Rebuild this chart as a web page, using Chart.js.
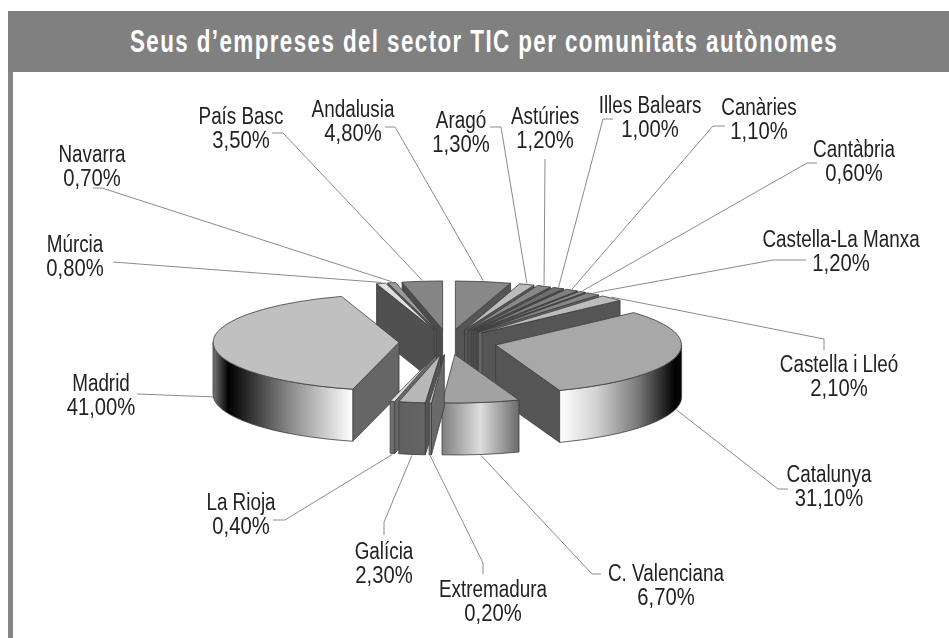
<!DOCTYPE html>
<html>
<head>
<meta charset="utf-8">
<script src="https://cdn.jsdelivr.net/npm/chart.js@4"></script>
<style>
  html, body { margin: 0; padding: 0; background: #fff; }
  body { width: 949px; height: 638px; position: relative; overflow: hidden; }
  #frame { position: absolute; left: 8px; top: 11px; width: 936px; height: 627px; border-left: 5px solid #858585; }
  #titleBar { position: absolute; left: 8px; top: 11px; width: 941px; height: 61px; background: #808080; }
  /* no condensed face is installed, so the bold face is narrowed by hand */
  #titleBar span {
    position: absolute; left: 122px; top: 0; color: #fff; white-space: nowrap;
    font: bold 32px "Liberation Sans", Arial, sans-serif; line-height: 60px;
    letter-spacing: 2px; transform: scaleX(0.7); transform-origin: 0 0;
  }
  canvas { position: absolute; left: 0; top: 0; }
</style>
</head>
<body>
<div id="frame"></div>
<div id="titleBar"><span>Seus d’empreses del sector TIC per comunitats autònomes</span></div>
<canvas id="pie" width="949" height="638"></canvas>
<script>
/* Data, clockwise from the top */
const categories = ['Andalusia', 'Aragó', 'Astúries', 'Illes Balears', 'Canàries', 'Cantàbria',
  'Castella-La Manxa', 'Castella i Lleó', 'Catalunya', 'C. Valenciana', 'Extremadura', 'Galícia',
  'La Rioja', 'Madrid', 'Múrcia', 'Navarra', 'País Basc'];
const shares = [4.8, 1.3, 1.2, 1.0, 1.1, 0.6, 1.2, 2.1, 31.1, 6.7, 0.2, 2.3, 0.4, 41.0, 0.8, 0.7, 3.5];

/* Styles */
const faceColors = ['#888888', '#bcbcbc', '#888888', '#6e6e6e', '#808080', '#909090', '#858585', '#bcbcbc',
  '#a8a8a8', '#a2a2a2', '#d0d0d0', '#b8b8b8', '#e2e2e2', '#c0c0c0', '#e0e0e0', '#9a9a9a', '#858585'];
const cutColors = ['#555555', '#555555', '#555555', '#4c4c4c', '#555555', '#4c4c4c', '#666666', '#555555',
  '#555555', '#606060', '#6a6a6a', '#555555', '#6a6a6a', '#666666', '#505050', '#555555', '#4c4c4c'];
const rimStops = {
  8: [[0, '#ffffff'], [0.3, '#d2d2d2'], [0.65, '#777777'], [0.95, '#000000'], [1, '#0a0a0a']],
  9: [[0, '#808080'], [0.5, '#dddddd'], [1, '#6a6a6a']],
  10: [[0, '#777777'], [1, '#777777']],
  11: [[0, '#606060'], [1, '#666666']],
  12: [[0, '#777777'], [1, '#666666']],
  13: [[0, '#777777'], [0.11, '#000000'], [0.55, '#8a8a8a'], [1, '#ffffff']]
};

/* Label centre (x, first line y) and the leader's way to it, last point next to the text */
const labelLayout = [
  { x: 353, y: 111, path: [[395, 127], [385, 127]] },
  { x: 461, y: 122, path: [[501, 127], [490, 127]] },
  { x: 545, y: 118, path: [[545, 159]] },
  { x: 650, y: 107, path: [[603, 119], [613, 119]] },
  { x: 759, y: 109, path: [[713, 126], [725, 126]] },
  { x: 854, y: 151, path: [[807, 163], [817, 163]] },
  { x: 841, y: 241, path: [[773, 260], [806, 260]] },
  { x: 839, y: 366, path: [[824, 339], [824, 350]] },
  { x: 829, y: 476, path: [[778, 489], [788, 489]] },
  { x: 666, y: 575, path: [[592, 574], [601, 574]] },
  { x: 493, y: 591, path: [[483, 563], [483, 574]] },
  { x: 384, y: 553, path: [[384, 522], [384, 535]] },
  { x: 241, y: 504, path: [[285, 520], [273, 520]] },
  { x: 101, y: 385, path: [[137, 394]] },
  { x: 75, y: 246, path: [[113, 262]] },
  { x: 92, y: 156, path: [[102, 188], [93, 188]] },
  { x: 241, y: 118, path: [[283, 133], [272, 133]] }
];

const SQUASH = 0.26;      // vertical scale of the tilted disc
const DEPTH = 52;         // wall height
const EXPLODE = 49;       // how far each slice is pulled out
const LINE_GAP = 23.5;
const NARROW = 0.82;      // horizontal squeeze of the label font
const NARROW_NUM = 0.88;  // the percentages are set a little wider

function fmtShare(v) {
  return v.toFixed(2).replace('.', ',') + '%';
}

// centre of the exploded slice on screen
function sliceOrigin(arc) {
  const mid = (arc.startAngle + arc.endAngle) / 2;
  return {
    x: arc.x + Math.cos(mid) * EXPLODE,
    y: arc.y + Math.sin(mid) * EXPLODE * SQUASH
  };
}

function rimPoint(o, r, a) {
  return { x: o.x + Math.cos(a) * r, y: o.y + Math.sin(a) * r * SQUASH };
}

function drawCutWall(ctx, o, r, a, color) {
  const p = rimPoint(o, r, a);
  ctx.beginPath();
  ctx.moveTo(o.x, o.y);
  ctx.lineTo(p.x, p.y);
  ctx.lineTo(p.x, p.y + DEPTH);
  ctx.lineTo(o.x, o.y + DEPTH);
  ctx.closePath();
  ctx.fillStyle = color;
  ctx.fill();
  ctx.stroke();
}

function drawRim(ctx, o, r, a0, a1, stops) {
  const from = rimPoint(o, r, a0);
  const to = rimPoint(o, r, a1);
  const left = Math.min(from.x, to.x, (a0 < Math.PI && a1 >= Math.PI) ? o.x - r : Infinity);
  const right = Math.max(from.x, to.x, (a0 <= 0 && a1 > 0) ? o.x + r : -Infinity);
  const grad = ctx.createLinearGradient(left, 0, right, 0);
  stops.forEach(s => grad.addColorStop(s[0], s[1]));
  ctx.beginPath();
  ctx.ellipse(o.x, o.y, r, r * SQUASH, 0, a0, a1);
  ctx.lineTo(to.x, to.y + DEPTH);
  ctx.ellipse(o.x, o.y + DEPTH, r, r * SQUASH, 0, a1, a0, true);
  ctx.closePath();
  ctx.fillStyle = grad;
  ctx.fill();
  ctx.stroke();
}

function drawSlice(ctx, arc, i) {
  const o = sliceOrigin(arc);
  const r = arc.outerRadius;
  const a = arc.startAngle;
  const b = arc.endAngle;

  ctx.strokeStyle = '#3c3c3c';
  ctx.lineWidth = 0.8;
  ctx.lineJoin = 'round';

  // walls: the start cut faces us on the left half, the end cut on the right half
  if (Math.sin(a + Math.PI / 2) < 0) drawCutWall(ctx, o, r, a, cutColors[i]);
  if (Math.sin(b + Math.PI / 2) > 0) drawCutWall(ctx, o, r, b, cutColors[i]);

  const rim0 = Math.max(a, 0);
  const rim1 = Math.min(b, Math.PI);
  if (rim1 > rim0) drawRim(ctx, o, r, rim0, rim1, rimStops[i] || [[0, cutColors[i]], [1, cutColors[i]]]);

  // top face is the library's own arc, squashed
  ctx.save();
  ctx.translate(o.x, o.y);
  ctx.scale(1, SQUASH);
  ctx.translate(-arc.x, -arc.y);
  arc.draw(ctx);
  ctx.restore();

  ctx.beginPath();
  ctx.moveTo(o.x, o.y);
  ctx.ellipse(o.x, o.y, r, r * SQUASH, 0, a, b);
  ctx.closePath();
  ctx.stroke();
}

function narrowText(ctx, text, x, y, squeeze) {
  ctx.save();
  ctx.translate(x, y);
  ctx.scale(squeeze, 1);
  ctx.fillText(text, 0, 0);
  ctx.restore();
}

function drawLabels(ctx, arcs) {
  arcs.forEach((arc, i) => {
    const mid = (arc.startAngle + arc.endAngle) / 2;
    const o = sliceOrigin(arc);
    const p = rimPoint(o, arc.outerRadius, mid);
    const front = Math.sin(mid) > 0;
    const lay = labelLayout[i];

    ctx.beginPath();
    ctx.moveTo(p.x, p.y + (front ? DEPTH + 1 : -1));
    lay.path.forEach(pt => ctx.lineTo(pt[0], pt[1]));
    ctx.strokeStyle = '#8a8a8a';
    ctx.lineWidth = 1;
    ctx.stroke();

    ctx.fillStyle = '#222';
    ctx.font = '23px "Liberation Sans", Arial, sans-serif';
    ctx.textAlign = 'center';
    ctx.textBaseline = 'middle';
    narrowText(ctx, categories[i], lay.x, lay.y, NARROW);
    narrowText(ctx, fmtShare(shares[i]), lay.x, lay.y + LINE_GAP, NARROW_NUM);
  });
}

const tiltedPie = {
  id: 'tiltedPie',
  beforeDatasetsDraw(chart) {
    const ctx = chart.ctx;
    const arcs = chart.getDatasetMeta(0).data;

    drawLabels(ctx, arcs);

    // back to front, so nearer slices cover the walls behind them
    const order = arcs.map((arc, i) => i).sort((p, q) => {
      const mp = (arcs[p].startAngle + arcs[p].endAngle) / 2;
      const mq = (arcs[q].startAngle + arcs[q].endAngle) / 2;
      return Math.sin(mp) - Math.sin(mq);
    });
    order.forEach(i => drawSlice(ctx, arcs[i], i));
    return false;
  }
};

new Chart(document.getElementById('pie'), {
  type: 'pie',
  data: {
    labels: categories,
    datasets: [{ data: shares, backgroundColor: faceColors, borderWidth: 0 }]
  },
  options: {
    responsive: false,
    animation: false,
    layout: { padding: { left: 262, right: 315, top: 156, bottom: 110 } },
    plugins: { legend: { display: false }, tooltip: { enabled: false } }
  },
  plugins: [tiltedPie]
});
</script>
</body>
</html>
